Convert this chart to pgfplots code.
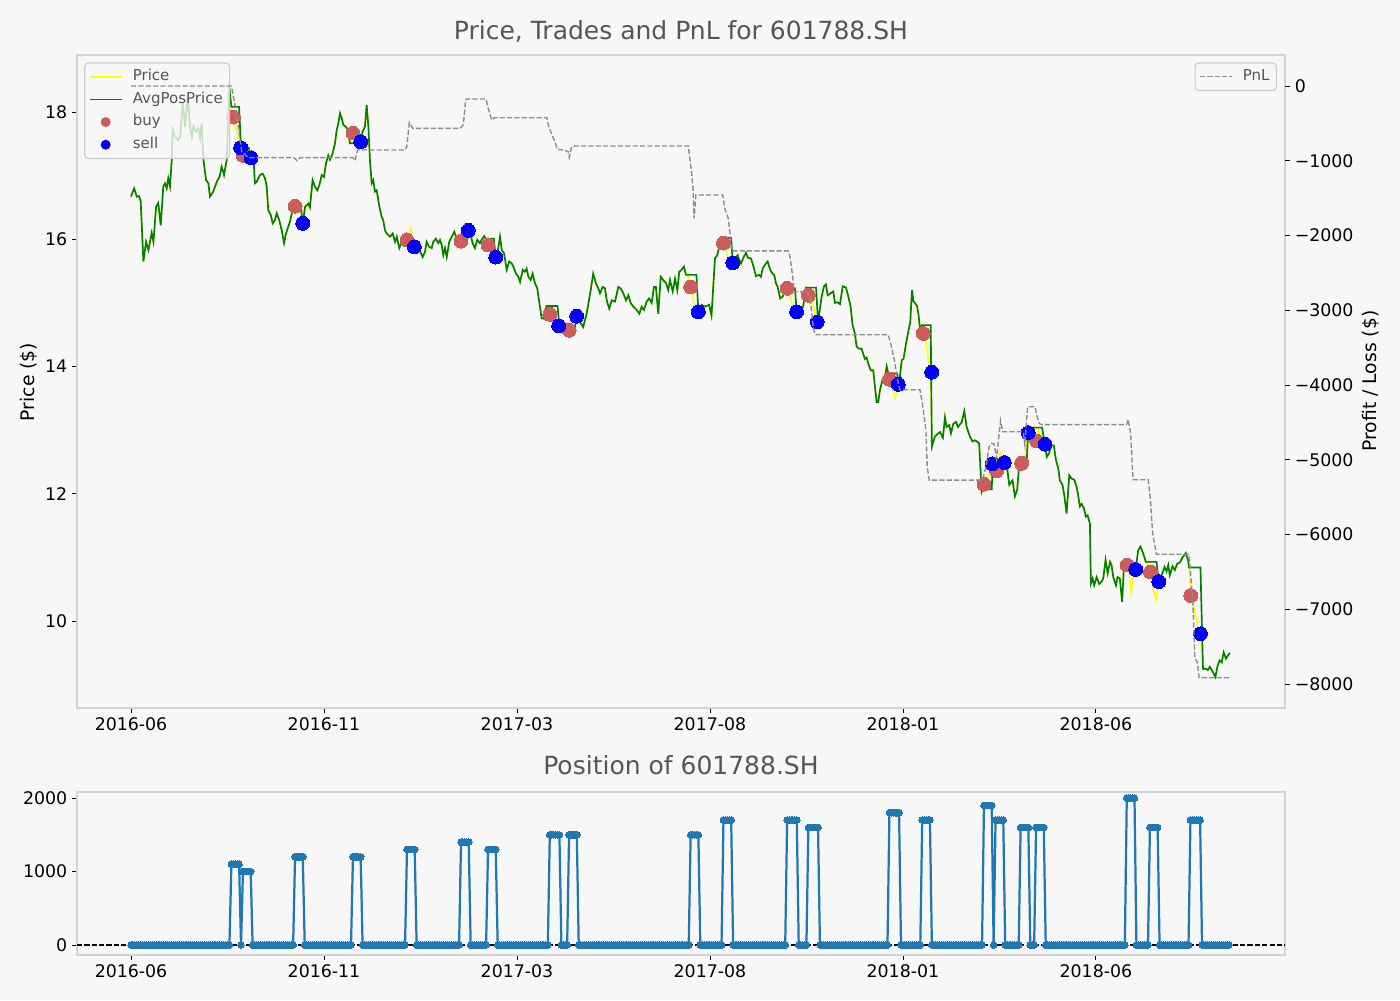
\documentclass[border=0pt]{standalone}
\usepackage{fontspec}
\setmainfont{DejaVu Sans}
\usepackage{pgfplots}
\usepackage{pgfplotstable}
\pgfplotsset{compat=1.18}
\definecolor{bg}{RGB}{247,247,247}
\definecolor{frame}{RGB}{211,211,211}
\definecolor{legframe}{RGB}{204,204,204}
\definecolor{titlegray}{RGB}{85,85,85}
\definecolor{pricey}{RGB}{255,255,0}
\definecolor{avggreen}{RGB}{0,128,0}
\definecolor{buyred}{RGB}{205,92,92}
\definecolor{sellblue}{RGB}{0,0,255}
\definecolor{pnlgray}{RGB}{140,140,140}
\definecolor{posblue}{RGB}{31,119,180}

\pgfplotstableread{
x p a
0 16.67 16.67
1.6 16.80 16.80
3.0 16.67 16.67
4.1 16.68 16.68
5.0 16.60 16.60
6.4 15.65 15.65
7.8 15.96 15.96
9.0 15.83 15.83
10.7 16.10 16.10
11.6 15.96 15.96
13.0 16.51 16.51
14.1 16.57 16.57
15.4 16.22 16.22
16.7 16.83 16.83
17.6 16.88 16.88
18.5 16.80 16.80
19.3 16.96 16.96
20.2 16.83 16.83
21.1 17.25 17.25
21.6 17.72 17.72
22.8 17.61 17.61
24.5 17.56 17.56
25.4 17.61 17.61
26.8 18.14 18.14
28.0 17.77 17.77
29.4 18.24 18.24
30.6 17.77 17.77
31.5 17.61 17.61
32.3 17.77 17.77
33.7 17.69 17.69
34.9 17.74 17.74
35.8 17.59 17.59
36.6 17.82 17.82
37.5 17.25 17.25
38.9 16.93 16.93
40.1 16.88 16.88
40.9 16.67 16.67
42.6 16.75 16.75
44.4 16.90 16.90
45.8 16.98 16.98
47.0 17.14 17.14
48.2 17.01 17.01
49.6 17.25 17.25
50.9 18.40 18.40
52 18.08 18.08
53 17.92 18.08
54 17.75 18.08
55 17.69 18.08
56 17.50 18.08
57 17.44 17.44
58 17.32 17.44
59 17.40 17.44
60 17.30 17.44
61 17.38 17.44
62 17.28 17.28
63.4 17.30 17.30
64.2 16.88 16.88
65.1 16.90 16.90
66.8 17.01 17.01
68.2 17.03 17.03
69.4 16.96 16.96
70.3 16.83 16.83
71.1 16.46 16.46
72.4 16.38 16.38
73.4 16.25 16.25
74.6 16.30 16.30
75.5 16.41 16.41
76.8 16.30 16.30
78.1 16.14 16.14
79.3 15.94 15.94
80.3 16.09 16.09
81.5 16.20 16.20
82.4 16.28 16.28
84 16.51 16.51
85 16.52 16.51
86 16.43 16.51
87 16.50 16.51
88 16.40 16.51
89 16.25 16.25
90.2 16.51 16.51
91.9 16.56 16.56
92.7 16.50 16.50
94.1 16.93 16.93
95.3 16.83 16.83
96.5 16.77 16.77
97.6 16.85 16.85
98.8 17.01 17.01
100 16.98 16.98
101 17.19 17.19
102.2 17.32 17.32
103.1 17.25 17.25
104.5 17.35 17.35
105.7 17.51 17.51
106.6 17.72 17.72
107.4 17.82 17.82
108.3 17.98 17.98
109.2 17.90 17.90
110 17.80 17.80
111.2 17.77 17.77
112.4 17.72 17.72
113.4 17.51 17.51
115 17.67 17.51
116 17.55 17.51
117 17.72 17.51
118 17.58 17.51
119 17.53 17.53
120 17.69 17.69
121.2 17.77 17.77
122.1 18.11 18.11
123 17.77 17.77
123.8 17.25 17.25
124.7 16.88 16.88
125.5 16.93 16.93
126.4 16.75 16.75
127.3 16.77 16.77
128.7 16.51 16.51
129.9 16.35 16.35
130.7 16.30 16.30
131.6 16.14 16.14
132.5 16.09 16.09
134.2 16.04 16.04
135.6 16.09 16.09
136.8 15.96 15.96
137.7 16.04 16.04
139 15.86 15.86
140.3 15.96 15.96
141.5 15.90 15.90
142.2 15.91 15.91
143 15.99 15.91
144 16.05 15.91
145 16.17 15.91
146 15.95 15.91
147 15.88 15.88
148 15.91 15.91
149.2 15.85 15.85
151.1 15.72 15.72
152.3 15.80 15.80
153.2 15.96 15.96
154.5 15.88 15.88
155.8 15.86 15.86
156.6 15.96 15.96
158 16.01 16.01
159.2 15.94 15.94
160.1 15.99 15.99
161 15.91 15.91
161.8 15.75 15.75
162.7 15.86 15.86
163.6 15.72 15.72
164.9 15.96 15.96
166.2 16.04 16.04
167.5 16.12 16.12
168.8 16.01 16.01
169.8 15.94 15.94
171 15.97 15.94
172 16.05 15.94
173 16.20 15.94
174 16.10 15.94
175 16.14 16.14
176 16.07 16.07
177 15.94 15.94
178.2 15.86 15.86
179.4 15.99 15.99
180.8 15.94 15.94
181.7 15.99 15.99
183 16.05 16.05
183.8 16.01 16.01
185 15.91 16.01
186 15.95 16.01
187 15.85 16.01
188 15.80 16.01
189 15.72 15.72
190.3 15.86 15.86
191.2 16.04 16.04
192.1 15.83 15.83
193.3 15.78 15.78
194.7 15.52 15.52
196 15.65 15.65
197.3 15.62 15.62
198.1 15.57 15.57
199.5 15.46 15.46
200.7 15.41 15.41
201.6 15.33 15.33
203 15.52 15.52
204.1 15.49 15.49
205 15.54 15.54
205.9 15.41 15.41
207.1 15.36 15.36
208.1 15.46 15.46
209.3 15.31 15.31
210.5 15.23 15.23
211.6 15.00 15.00
212.8 14.76 14.76
214 14.75 14.75
215.3 14.95 14.95
216 14.90 14.95
217 14.82 14.95
218 14.78 14.95
219 14.70 14.95
220 14.62 14.95
221 14.66 14.95
222 14.64 14.64
223 14.65 14.65
224 14.60 14.60
225 14.64 14.64
226 14.62 14.62
227 14.57 14.62
228 14.55 14.62
229 14.68 14.62
230 14.72 14.62
231 14.79 14.79
232.6 14.70 14.70
234.3 14.62 14.62
236.1 14.83 14.83
238.2 15.20 15.20
239.5 15.46 15.46
240.9 15.31 15.31
242.1 15.23 15.23
243 15.15 15.15
244.4 15.25 15.25
245.6 15.23 15.23
246.5 15.04 15.04
247.8 14.91 14.91
249.1 15.04 15.04
250.8 15.02 15.02
252.5 15.25 15.25
253.7 15.23 15.23
255.1 15.15 15.15
256.5 15.04 15.04
257.7 15.12 15.12
258.9 15.00 15.00
260.3 14.94 14.94
262 14.89 14.89
263.4 14.83 14.83
264.6 14.94 14.94
265.8 14.89 14.89
267.2 15.02 15.02
268.5 15.07 15.07
269.8 15.00 15.00
271 15.25 15.25
272 15.25 15.25
273.2 14.83 14.83
274.5 15.41 15.41
275.8 15.36 15.36
277.2 15.31 15.31
278.4 15.20 15.20
279.3 15.36 15.36
280.7 15.18 15.18
281.9 15.38 15.38
283.1 15.20 15.20
284.1 15.49 15.49
285.3 15.52 15.52
286.5 15.57 15.57
287.6 15.44 15.44
289 15.40 15.44
290 15.25 15.44
291 15.10 15.44
292 14.95 15.44
293 14.80 15.44
294 14.86 14.86
295.7 14.97 14.97
297.4 14.94 14.94
298.2 14.95 14.95
299.6 14.97 14.97
300.8 14.80 14.80
302.6 15.70 15.70
303.8 15.75 15.75
304.8 15.88 15.88
306.1 16.02 16.02
307 15.94 16.02
308 15.85 16.02
309 15.75 16.02
310 15.60 16.02
311 15.63 16.02
311.8 15.63 15.63
313.5 15.72 15.72
314.4 15.75 15.75
315.2 15.67 15.67
316.1 15.62 15.62
317.5 15.72 15.72
318.7 15.79 15.79
319.6 15.71 15.71
321.2 15.70 15.70
322.6 15.57 15.57
323.8 15.42 15.42
325.5 15.44 15.44
326.4 15.41 15.41
327.3 15.54 15.54
329 15.62 15.62
329.9 15.65 15.65
331.2 15.52 15.52
332.4 15.46 15.46
333.3 15.44 15.44
334.2 15.31 15.31
335.1 15.25 15.25
336.4 15.07 15.07
337.7 15.10 15.10
338.5 15.15 15.15
339.4 15.23 15.23
340 15.23 15.23
341 15.15 15.23
342 15.05 15.23
343 14.95 15.23
344 14.86 15.23
345 14.86 14.86
346.6 14.87 14.87
348.3 14.94 14.94
349.7 15.25 15.24
351 15.12 15.24
352 15.20 15.24
353 15.00 15.24
354 14.90 15.24
355 14.75 15.24
356 14.70 14.70
357.9 15.10 15.10
359.1 15.26 15.26
360.1 15.29 15.29
361 15.12 15.12
362.5 15.15 15.15
363.9 15.18 15.18
364.8 15.00 15.00
366 15.01 15.01
367.4 14.98 14.98
368.8 15.26 15.26
370.5 15.24 15.24
371.7 15.10 15.10
372.9 14.94 14.94
373.9 14.65 14.65
375.1 14.52 14.52
376 14.31 14.31
377.4 14.28 14.28
378.6 14.28 14.28
379.4 14.20 14.20
380.3 14.12 14.12
381.2 14.14 14.14
382 14.05 14.05
383.3 13.94 13.94
384.6 13.94 13.94
385.5 13.68 13.68
386.4 13.44 13.44
387.2 13.44 13.44
388.1 13.63 13.63
389.5 13.80 13.80
390.7 13.84 13.84
391.6 14.00 14.00
392.4 13.89 13.89
393 13.80 13.89
394 13.75 13.89
395 13.62 13.89
396 13.50 13.89
397 13.65 13.89
398 13.72 13.72
399.4 14.10 14.10
400.3 14.12 14.12
401.6 14.36 14.36
402.6 14.52 14.52
403.8 14.70 14.70
404.7 15.20 15.20
405.5 15.02 15.02
406.4 14.99 14.99
407.3 14.95 14.95
408.1 14.81 14.81
408.9 14.57 14.57
409.8 14.65 14.65
410.5 14.52 14.65
411.5 14.45 14.65
412.5 14.25 14.65
413.5 14.00 14.65
414.4 13.91 14.65
415 12.74 12.74
416.6 12.90 12.90
418.3 12.95 12.95
419.2 12.97 12.97
420.7 12.88 12.88
421.8 13.20 13.20
422.6 13.05 13.05
424 13.08 13.08
424.9 12.95 12.95
426.1 13.10 13.10
427.5 13.13 13.13
428.5 13.05 13.05
430.4 13.12 13.12
431.8 13.30 13.30
433 13.05 13.05
434.7 12.90 12.90
436.1 12.82 12.82
437.3 12.84 12.84
438.5 12.82 12.82
439.5 12.79 12.79
440.8 12.03 12.03
441.3 12.07 12.07
442 12.15 12.07
443 12.05 12.07
444 12.20 12.07
445 12.35 12.07
446 12.47 12.07
446.6 12.48 12.48
447.5 12.45 12.48
448.5 12.36 12.48
449.5 12.45 12.48
450.3 12.66 12.48
451.3 12.55 12.48
452.5 12.49 12.48
453.7 12.40 12.48
455.1 12.14 12.14
456.8 12.21 12.21
458 11.96 11.96
459.2 12.06 12.06
460.3 12.49 12.48
461.5 12.48 12.48
462.5 12.40 12.48
463.5 12.60 12.48
464.1 12.80 12.48
464.9 12.96 12.96
466.1 13.04 13.04
467 12.98 13.04
468 13.05 13.04
469.3 12.83 13.04
470.3 13.00 13.04
471.2 12.88 13.04
472.1 12.95 13.04
473.6 12.78 12.78
474.5 12.58 12.58
475.8 12.64 12.64
477 12.76 12.76
478.2 12.76 12.76
479.3 12.53 12.53
480.5 12.40 12.40
481.3 12.21 12.21
482.7 12.14 12.14
483.6 11.98 11.98
484.8 11.69 11.69
486.2 12.29 12.29
487.4 12.24 12.24
488.8 12.22 12.22
490 12.11 12.11
490.8 11.98 11.98
491.7 11.80 11.80
492.6 11.84 11.84
493.8 11.77 11.77
494.8 11.64 11.64
495.7 11.66 11.66
496.9 11.53 11.53
497.4 10.59 10.59
498.3 10.67 10.67
499.1 10.56 10.56
500.4 10.69 10.69
501.7 10.58 10.58
503 10.62 10.62
503.8 10.67 10.67
505 10.96 10.96
506.1 10.75 10.75
507.3 10.93 10.93
508.1 10.88 10.88
509 10.69 10.69
510.4 10.56 10.56
511.2 10.69 10.69
512.4 10.67 10.67
513.6 10.30 10.30
514.5 10.85 10.85
515 10.83 10.83
516.2 10.88 10.83
517.2 10.75 10.83
518.3 10.45 10.83
519.3 10.70 10.83
520.6 10.81 10.81
521.9 11.11 11.11
523.1 11.17 11.17
524.5 11.06 11.06
525.9 10.93 10.93
527.2 10.90 10.93
528.3 10.77 10.93
529.3 10.60 10.93
530.3 10.42 10.93
531.4 10.33 10.93
532.6 10.62 10.62
534.4 10.75 10.75
535.6 10.85 10.85
536.6 10.78 10.78
537.5 10.88 10.88
538.3 10.72 10.72
539.7 10.86 10.86
540.9 10.80 10.80
542.1 10.90 10.90
543.5 10.92 10.92
544.9 11.00 11.00
546.6 11.07 11.07
547.8 10.95 10.95
548.3 10.84 10.84
549.2 10.40 10.84
550.2 10.30 10.84
551.2 10.15 10.84
552.2 10.00 10.84
553.2 9.85 10.84
554.2 9.80 10.84
555.5 9.25 9.25
557 9.25 9.25
558 9.23 9.23
559 9.28 9.28
560.6 9.20 9.20
561.9 9.12 9.12
563.1 9.30 9.30
564.1 9.38 9.38
565.2 9.35 9.35
566.2 9.51 9.51
567.4 9.41 9.41
568.5 9.46 9.46
569.4 9.50 9.50
}\pricetab

\pgfplotstableread{
x pnl
0 0
52 0
53.9 -254
57.4 -879
60.8 -959
84.5 -959
86 -1000
87.5 -959
115 -959
116 -1000
117.5 -856
142 -856
142.9 -812
144.2 -491
146 -566
170.5 -566
172.2 -520
173.4 -187
173.9 -174
183.9 -174
185.1 -298
186.9 -455
188.2 -424
215.4 -424
216.7 -566
219.7 -745
220.9 -847
224 -856
226.6 -879
227.1 -954
228.3 -812
230 -803
288.8 -803
290.5 -1168
291.3 -1392
291.8 -1770
292.7 -1458
306.6 -1458
307.8 -1650
309.5 -1770
310.4 -1971
311.2 -2194
312 -2205
340.6 -2205
341.5 -2284
342.8 -2540
343.7 -2753
350.1 -2753
351.8 -2819
352.7 -3020
353.5 -3221
354.4 -3327
392.4 -3327
394.1 -3488
395.9 -3711
396.7 -3867
398.4 -4063
408.8 -4063
410.2 -4268
411.9 -4603
412.6 -5094
413.6 -5272
441.3 -5272
443 -5094
444.7 -4826
445.9 -4781
447.3 -4790
448.5 -4982
449.9 -4647
450.6 -4478
451.7 -4626
462.3 -4626
463.2 -4800
464.6 -4291
468.4 -4291
469.6 -4425
470.6 -4514
471.9 -4530
515.9 -4530
516.7 -4460
518 -4650
519.3 -5268
527.1 -5268
528.3 -5545
529.4 -5985
531.4 -6264
548.3 -6264
549.6 -6700
550.4 -7000
551.3 -7657
552.5 -7700
553.5 -7917
569 -7917
}\pnltab

\pgfplotstableread{
x y
53 17.92
58 17.32
85 16.52
115 17.67
143 15.99
171 15.97
185 15.91
217 14.82
227 14.57
290 15.25
307 15.94
340 15.23
351 15.12
393 13.80
410.5 14.52
442 12.15
448.5 12.36
461.5 12.48
469.3 12.83
516.2 10.88
528.3 10.77
549.2 10.40
}\buytab

\pgfplotstableread{
x y
56.8 17.44
62.2 17.28
89 16.25
119 17.53
146.8 15.88
174.8 16.14
189 15.72
221.6 14.64
230.9 14.79
294 14.86
311.8 15.63
344.9 14.86
355.6 14.70
397.6 13.72
414.9 13.91
446.3 12.47
452.5 12.49
464.9 12.96
473.6 12.78
520.6 10.81
532.6 10.62
554.2 9.80
}\selltab

\pgfplotsset{
  common/.style={
    scale only axis,
    xmin=-28, xmax=598,
    tick align=outside,
    major tick length=3.5pt,
    every tick/.style={black, line width=0.6pt},
    ticklabel style={font=\fontsize{12.5}{15}\selectfont, text=black},
  },
  framed/.style={
    axis background/.style={fill=bg},
    axis line style={draw=frame, line width=1.8pt},
    xtick pos=bottom, ytick pos=left,
    xtick={0,100,200,300,400,500},
    xticklabels={2016-06,2016-11,2017-03,2017-08,2018-01,2018-06},
  },
  legbox/.style={
    fill=bg, fill opacity=0.8, draw opacity=1, text opacity=1,
    draw=legframe, line width=0.8pt, rounded corners=2.5pt,
    font=\fontsize{10.8}{13}\selectfont,
    nodes={inner sep=2pt, text height=8.1pt, text depth=2.7pt},
    row sep=1.5pt, inner xsep=3pt, inner ysep=2.5pt,
    /tikz/every odd column/.append style={column sep=5.5pt},
  },
}
\newcommand{\legtxt}[1]{\textcolor{titlegray}{#1}}

\begin{document}
\begin{tikzpicture}
\path[use as bounding box, fill=bg] (0,0) rectangle (1008pt,720pt);

% ---------- top panel: price ----------
\begin{axis}[common, framed,
  at={(55.44pt,210.24pt)}, anchor=south west,
  width=869.76pt, height=470.16pt,
  ymin=8.633, ymax=18.896,
  ytick={10,12,14,16,18}, yticklabels={10,12,14,16,18},
  legend cell align=left,
  legend style={legbox, at={(0,1)}, anchor=north west, xshift=5.2pt, yshift=-5.4pt},
]
\addplot[pricey, line width=1.1pt,
  legend image code/.code={\path[draw=pricey, fill=none, line width=1.2pt, opacity=1, rounded corners=0pt] (0pt,0pt) -- (22.8pt,0pt);}]
  table[x=x, y=p] {\pricetab};
\addlegendentry{\legtxt{Price}}
\addplot[avggreen, line width=1.2pt,
  legend image code/.code={\path[draw=avggreen, fill=none, line width=1.3pt, opacity=1, rounded corners=0pt] (0pt,0pt) -- (22.8pt,0pt);}]
  table[x=x, y=a] {\pricetab};
\addlegendentry{\legtxt{AvgPosPrice}}
\addplot[only marks, mark=*, mark size=5pt, mark options={fill=buyred, draw=buyred, line width=0pt},
  legend image code/.code={\path[fill=buyred, draw=none, opacity=1] (11.4pt,0pt) circle[radius=3.6pt]; \path[draw=none, fill=none] (0pt,-1pt) rectangle (22.8pt,1pt);}]
  table[x=x, y=y] {\buytab};
\addlegendentry{\legtxt{buy}}
\addplot[only marks, mark=*, mark size=5pt, mark options={fill=sellblue, draw=sellblue, line width=0pt},
  legend image code/.code={\path[fill=sellblue, draw=none, opacity=1] (11.4pt,0pt) circle[radius=3.6pt]; \path[draw=none, fill=none] (0pt,-1pt) rectangle (22.8pt,1pt);}]
  table[x=x, y=y] {\selltab};
\addlegendentry{\legtxt{sell}}
\end{axis}

% ---------- top panel: PnL (right axis) ----------
\begin{axis}[common,
  at={(55.44pt,210.24pt)}, anchor=south west,
  width=869.76pt, height=470.16pt,
  ymin=-8321, ymax=415,
  axis line style={draw=none},
  xtick=\empty,
  ytick pos=right, yticklabel pos=right,
  ytick={-8000,-7000,-6000,-5000,-4000,-3000,-2000,-1000,0},
  yticklabels={−8000,−7000,−6000,−5000,−4000,−3000,−2000,−1000,0},
  legend style={legbox, at={(1,1)}, anchor=north east, xshift=-5.8pt, yshift=-5.4pt},
]
\addplot[pnlgray, line width=1pt, dash pattern=on 3.7pt off 1.6pt,
  legend image code/.code={\path[draw=pnlgray, fill=none, line width=1pt, dash pattern=on 3.7pt off 1.6pt, opacity=1, rounded corners=0pt] (0pt,0pt) -- (22.8pt,0pt);}]
  table[x=x, y=pnl] {\pnltab};
\addlegendentry{\legtxt{PnL}}
\end{axis}

% ---------- bottom panel: position ----------
\begin{axis}[common, framed,
  at={(55.44pt,32.4pt)}, anchor=south west,
  width=869.76pt, height=117.36pt,
  ymin=-136, ymax=2082,
  ytick={0,1000,2000}, yticklabels={0,1000,2000},
]
\addplot[posblue, line width=1.6pt, mark=*, mark size=2.4pt, mark options={fill=posblue, draw=posblue, line width=0pt}]
 table[row sep=\\, x expr=\coordindex, y=p] {
p\\
0\\0\\0\\0\\0\\0\\0\\0\\0\\0\\
0\\0\\0\\0\\0\\0\\0\\0\\0\\0\\
0\\0\\0\\0\\0\\0\\0\\0\\0\\0\\
0\\0\\0\\0\\0\\0\\0\\0\\0\\0\\
0\\0\\0\\0\\0\\0\\0\\0\\0\\0\\
0\\0\\
1100\\1100\\1100\\1100\\1100\\
0\\
1000\\1000\\1000\\1000\\1000\\
0\\0\\0\\0\\0\\0\\0\\0\\0\\0\\
0\\0\\0\\0\\0\\0\\0\\0\\0\\0\\
0\\0\\
1200\\1200\\1200\\1200\\1200\\
0\\0\\0\\0\\0\\0\\0\\0\\0\\0\\
0\\0\\0\\0\\0\\0\\0\\0\\0\\0\\
0\\0\\0\\0\\0\\
1200\\1200\\1200\\1200\\1200\\
0\\0\\0\\0\\0\\0\\0\\0\\0\\0\\
0\\0\\0\\0\\0\\0\\0\\0\\0\\0\\
0\\0\\0\\
1300\\1300\\1300\\1300\\1300\\
0\\0\\0\\0\\0\\0\\0\\0\\0\\0\\
0\\0\\0\\0\\0\\0\\0\\0\\0\\0\\
0\\0\\0\\
1400\\1400\\1400\\1400\\1400\\
0\\0\\0\\0\\0\\0\\0\\0\\0\\
1300\\1300\\1300\\1300\\1300\\
0\\0\\0\\0\\0\\0\\0\\0\\0\\0\\
0\\0\\0\\0\\0\\0\\0\\0\\0\\0\\
0\\0\\0\\0\\0\\0\\0\\
1500\\1500\\1500\\1500\\1500\\1500\\
0\\0\\0\\0\\
1500\\1500\\1500\\1500\\1500\\
0\\0\\0\\0\\0\\0\\0\\0\\0\\0\\
0\\0\\0\\0\\0\\0\\0\\0\\0\\0\\
0\\0\\0\\0\\0\\0\\0\\0\\0\\0\\
0\\0\\0\\0\\0\\0\\0\\0\\0\\0\\
0\\0\\0\\0\\0\\0\\0\\0\\0\\0\\
0\\0\\0\\0\\0\\0\\0\\0\\
1500\\1500\\1500\\1500\\1500\\
0\\0\\0\\0\\0\\0\\0\\0\\0\\0\\
0\\0\\
1700\\1700\\1700\\1700\\1700\\
0\\0\\0\\0\\0\\0\\0\\0\\0\\0\\
0\\0\\0\\0\\0\\0\\0\\0\\0\\0\\
0\\0\\0\\0\\0\\0\\0\\0\\
1700\\1700\\1700\\1700\\1700\\1700\\
0\\0\\0\\0\\0\\
1600\\1600\\1600\\1600\\1600\\1600\\
0\\0\\0\\0\\0\\0\\0\\0\\0\\0\\
0\\0\\0\\0\\0\\0\\0\\0\\0\\0\\
0\\0\\0\\0\\0\\0\\0\\0\\0\\0\\
0\\0\\0\\0\\0\\0\\
1800\\1800\\1800\\1800\\1800\\1800\\
0\\0\\0\\0\\0\\0\\0\\0\\0\\0\\
0\\
1700\\1700\\1700\\1700\\1700\\
0\\0\\0\\0\\0\\0\\0\\0\\0\\0\\
0\\0\\0\\0\\0\\0\\0\\0\\0\\0\\
0\\0\\0\\0\\0\\0\\0\\
1900\\1900\\1900\\1900\\1900\\
0\\
1700\\1700\\1700\\1700\\1700\\
0\\0\\0\\0\\0\\0\\0\\0\\
1600\\1600\\1600\\1600\\1600\\
0\\0\\0\\
1600\\1600\\1600\\1600\\1600\\
0\\0\\0\\0\\0\\0\\0\\0\\0\\0\\
0\\0\\0\\0\\0\\0\\0\\0\\0\\0\\
0\\0\\0\\0\\0\\0\\0\\0\\0\\0\\
0\\0\\0\\0\\0\\0\\0\\0\\0\\0\\
0\\0\\
2000\\2000\\2000\\2000\\2000\\
0\\0\\0\\0\\0\\0\\0\\
1600\\1600\\1600\\1600\\1600\\
0\\0\\0\\0\\0\\0\\0\\0\\0\\0\\
0\\0\\0\\0\\0\\0\\
1700\\1700\\1700\\1700\\1700\\1700\\
0\\0\\0\\0\\0\\0\\0\\0\\0\\0\\
0\\0\\0\\0\\0\\
};
\addplot[black, line width=0.9pt, dash pattern=on 3.7pt off 1.6pt] coordinates {(-28,0) (598,0)};
\end{axis}

% ---------- titles and axis labels ----------
\node[anchor=base, font=\fontsize{18}{21}\selectfont, text=titlegray] at (490.3pt,691.9pt) {Price, Trades and PnL for 601788.SH};
\node[anchor=base, font=\fontsize{18}{21}\selectfont, text=titlegray] at (490.3pt,162pt) {Position of 601788.SH};
\node[rotate=90, font=\fontsize{13.5}{16}\selectfont] at (20.9pt,445pt) {Price (\$)};
\node[rotate=90, font=\fontsize{13.5}{16}\selectfont] at (987.1pt,445.7pt) {Profit / Loss (\$)};
\end{tikzpicture}
\end{document}
